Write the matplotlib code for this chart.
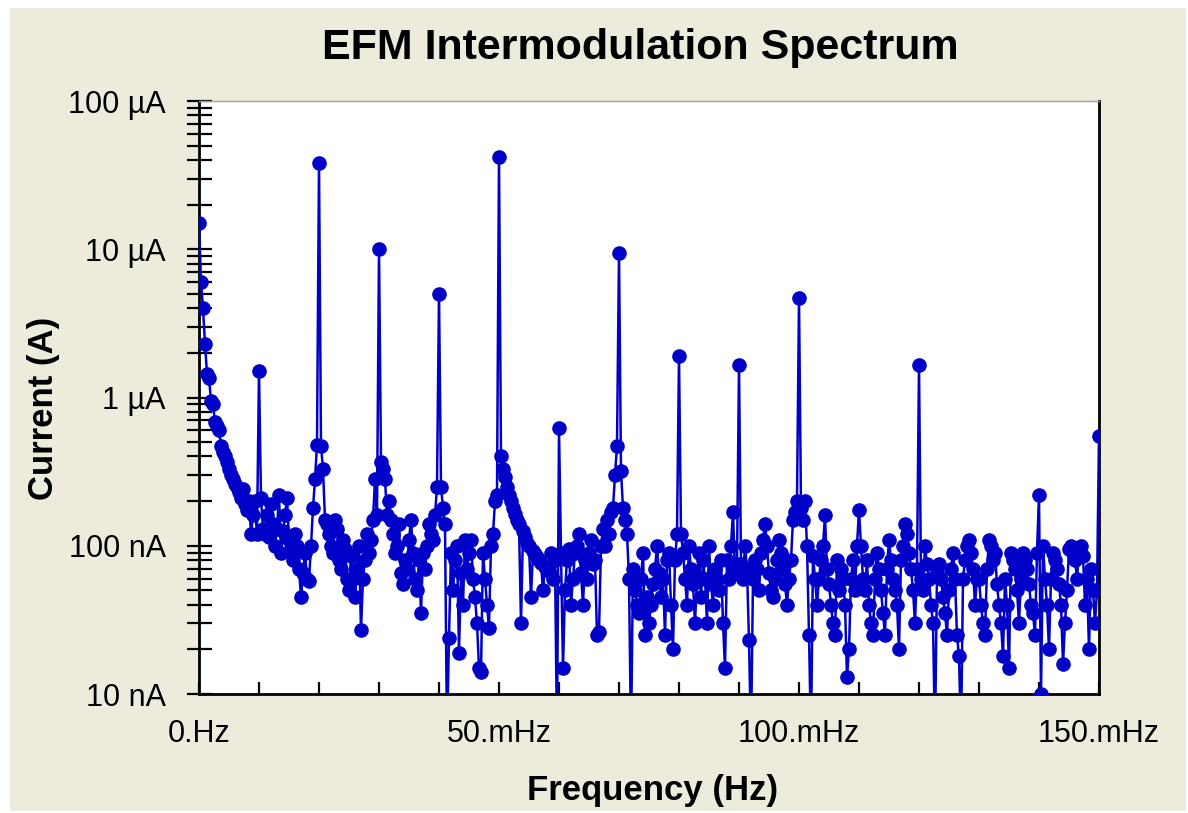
import numpy as np
import matplotlib
matplotlib.use("Agg")
import matplotlib.pyplot as plt
from matplotlib.patches import Rectangle
from matplotlib.ticker import FixedLocator, FixedFormatter, LogLocator, NullFormatter

# Spectrum values in nA, one value every 1/3 mHz, grouped by 10 mHz band
band_00 = [15000, 6000, 4000, 2300, 1450, 1350, 950, 900, 680, 640,
           600, 470, 430, 400, 370, 330, 300, 280, 260, 250,
           230, 210, 240, 190, 175, 200, 120, 160, 200, 120]
band_10 = [1500, 210, 130, 120, 160, 115, 190, 140, 100, 130,
           220, 90, 125, 160, 210, 110, 95, 80, 120, 100,
           70, 45, 65, 90, 60, 58, 100, 180, 280, 480]
band_20 = [38000, 470, 330, 150, 140, 120, 100, 90, 150, 130,
           80, 70, 110, 95, 60, 50, 85, 60, 45, 70,
           100, 27, 60, 80, 120, 90, 110, 150, 280, 160]
band_30 = [10000, 370, 330, 280, 160, 200, 150, 120, 90, 100,
           140, 65, 55, 80, 70, 110, 150, 90, 60, 50,
           80, 35, 90, 70, 100, 140, 120, 110, 160, 250]
band_40 = [5000, 250, 180, 140, 5, 24, 90, 50, 80, 100,
           19, 65, 40, 110, 70, 90, 110, 60, 45, 30,
           15, 14, 90, 60, 40, 28, 100, 120, 200, 220]
band_50 = [42000, 400, 330, 290, 250, 220, 200, 180, 165, 150,
           140, 30, 125, 115, 105, 100, 45, 92, 88, 84,
           80, 76, 50, 72, 70, 68, 90, 60, 80, 5]
band_60 = [620, 90, 15, 50, 80, 95, 40, 60, 90, 100,
           120, 65, 40, 80, 60, 90, 110, 75, 80, 25,
           26, 100, 130, 100, 150, 120, 170, 180, 300, 470]
band_70 = [9500, 320, 180, 150, 120, 60, 5, 70, 50, 40,
           35, 60, 90, 25, 45, 30, 40, 55, 70, 100,
           65, 45, 60, 25, 80, 90, 40, 20, 80, 120]
band_80 = [1900, 120, 90, 60, 40, 100, 70, 55, 30, 60,
           90, 45, 80, 60, 30, 100, 55, 40, 70, 60,
           50, 80, 30, 15, 80, 60, 100, 170, 65, 75]
band_90 = [1650, 75, 60, 100, 70, 23, 5, 60, 80, 70,
           50, 90, 110, 140, 100, 65, 50, 45, 60, 80,
           110, 90, 70, 55, 40, 60, 80, 150, 170, 200]
band_100 = [4700, 180, 150, 200, 100, 25, 5, 85, 60, 40,
            60, 80, 100, 160, 70, 55, 40, 30, 25, 80,
            50, 70, 60, 40, 13, 20, 60, 80, 50, 100]
band_110 = [175, 100, 60, 50, 80, 40, 30, 25, 60, 90,
            70, 50, 35, 25, 70, 110, 80, 60, 50, 40,
            20, 80, 100, 140, 120, 90, 70, 50, 30, 70]
band_120 = [1650, 60, 50, 100, 75, 60, 40, 30, 5, 65,
            75, 60, 45, 35, 25, 50, 70, 90, 60, 25,
            18, 5, 60, 80, 100, 110, 90, 70, 40, 60]
band_130 = [60, 40, 30, 25, 70, 110, 100, 80, 90, 55,
            40, 30, 18, 60, 40, 15, 90, 80, 70, 50,
            30, 60, 90, 80, 70, 55, 40, 35, 25, 90]
band_140 = [220, 10, 100, 60, 40, 20, 60, 90, 80, 70,
            55, 40, 16, 30, 50, 95, 100, 90, 80, 60,
            90, 100, 85, 40, 60, 20, 70, 50, 30, 50]
end_point = [550]

bands = [band_00, band_10, band_20, band_30, band_40, band_50, band_60, band_70,
         band_80, band_90, band_100, band_110, band_120, band_130, band_140, end_point]
current_nA = np.concatenate([np.array(b, dtype=float) for b in bands])
freq_hz = np.arange(len(current_nA)) / 3000.0
current_A = current_nA * 1e-9

x_tick_vals = [0.0, 0.05, 0.10, 0.15]
x_tick_labels = ["0.Hz", "50.mHz", "100.mHz", "150.mHz"]
y_tick_vals = [1e-8, 1e-7, 1e-6, 1e-5, 1e-4]
y_tick_labels = ["10 nA", "100 nA", "1 µA", "10 µA", "100 µA"]

W, H = 1188, 813
fig = plt.figure(figsize=(W / 100, H / 100), dpi=100, facecolor="white")
fig.patches.append(Rectangle((10 / W, 2 / H), 1176 / W, 803 / H, transform=fig.transFigure,
                             facecolor="#ECEBDC", edgecolor="none", zorder=-10))

L, R, T, B = 199, 1099, 101, 694
ax = fig.add_axes([L / W, 1 - B / H, (R - L) / W, (B - T) / H])
ax.set_facecolor("white")

ax.plot(freq_hz, current_A, color="#0000C8", lw=1.8, marker="o", ms=9.5,
        mec="#0000C8", mfc="#0000C8", clip_on=True, zorder=3)

ax.set_yscale("log")
ax.set_xlim(0, 0.15)
ax.set_ylim(1e-8, 1e-4)

ax.yaxis.set_major_locator(FixedLocator(y_tick_vals))
ax.yaxis.set_major_formatter(FixedFormatter(y_tick_labels))
ax.yaxis.set_minor_locator(LogLocator(base=10, subs=np.arange(2, 10)))
ax.yaxis.set_minor_formatter(NullFormatter())
ax.tick_params(axis="y", which="both", direction="inout", length=18, width=1.6,
               color="black", labelsize=22, pad=15)

minor_x = np.arange(0, 0.1501, 0.01)
ax.xaxis.set_major_locator(FixedLocator(x_tick_vals))
ax.xaxis.set_major_formatter(FixedFormatter(x_tick_labels))
ax.xaxis.set_minor_locator(FixedLocator(minor_x))
ax.tick_params(axis="x", which="both", direction="in", length=9, width=1.6,
               color="black", labelsize=22, pad=18)
for lab in ax.get_xticklabels() + ax.get_yticklabels():
    lab.set_fontfamily("Liberation Sans")

for s in ["left", "bottom", "right"]:
    ax.spines[s].set_color("black")
    ax.spines[s].set_linewidth(2.0)
ax.spines["top"].set_color("#A0A0A0")
ax.spines["top"].set_linewidth(1.0)

fig.text(640 / W, 1 - 48 / H, "EFM Intermodulation Spectrum", ha="center", va="center",
         fontsize=31, fontweight="bold", family="Liberation Sans")
fig.text(653 / W, 1 - 790 / H, "Frequency (Hz)", ha="center", va="center",
         fontsize=25, fontweight="bold", family="Liberation Sans")
fig.text(44 / W, 1 - 408 / H, "Current (A)", ha="center", va="center", rotation=90,
         fontsize=25, fontweight="bold", family="Liberation Sans")

fig.savefig("out.png", dpi=100, facecolor="white")
